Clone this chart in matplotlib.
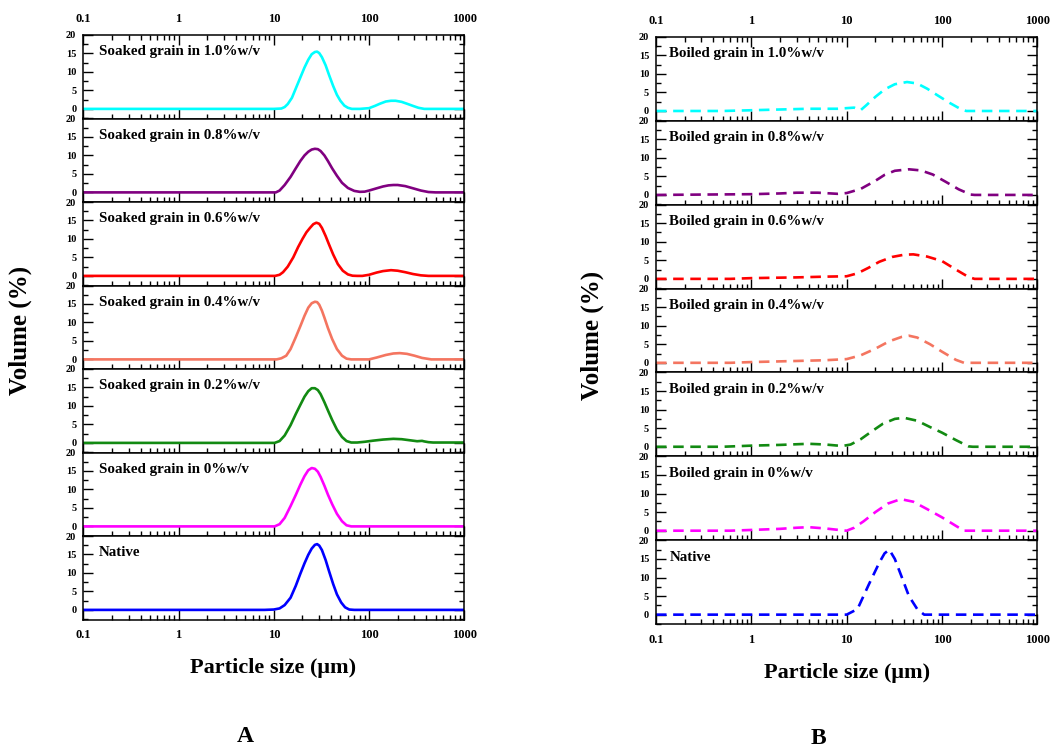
import matplotlib.pyplot as plt
from matplotlib.ticker import FixedLocator, FixedFormatter, LogLocator, MultipleLocator, NullFormatter

# particle size distributions, volume % vs size (um)
# panel A: soaked grain (solid lines)
soaked_10_x = [0.1, 10, 12, 13, 14, 15.5, 17, 19, 21, 23, 25, 27, 28.5, 30, 32, 35, 38, 42, 46, 50, 55, 60, 66,
               80, 100, 115, 130, 150, 170, 190, 220, 250, 290, 330, 380, 1000]
soaked_10_y = [0, 0, 0.1, 0.5, 1.3, 3, 5.5, 8.5, 11.2, 13.3, 14.8, 15.4, 15.5, 15.1, 14, 11.8, 9.2, 6.2, 3.8, 2.2,
               0.9, 0.3, 0, 0, 0.2, 0.8, 1.4, 2.0, 2.2, 2.2, 1.9, 1.4, 0.8, 0.3, 0, 0]
soaked_08_x = [0.1, 10.5, 11.5, 13, 15, 17, 19, 21, 23, 25, 27, 29, 31, 34, 37, 41, 46, 52, 60, 70, 80, 90, 100,
               120, 140, 160, 180, 200, 240, 290, 350, 420, 500, 1000]
soaked_08_y = [0, 0, 0.5, 2, 4.2, 6.5, 8.5, 10, 11, 11.6, 11.8, 11.7, 11.2, 10, 8.5, 6.5, 4.5, 2.6, 1.2, 0.4, 0.15,
               0.2, 0.5, 1.1, 1.6, 1.9, 2.0, 2.0, 1.7, 1.1, 0.5, 0.1, 0, 0]
soaked_06_x = [0.1, 10.3, 11.5, 12.5, 14, 16, 18, 20, 22, 24, 26, 28, 30, 32, 35, 38, 42, 47, 53, 60, 67, 75, 85,
               100, 120, 140, 170, 200, 240, 290, 350, 420, 1000]
soaked_06_y = [0, 0, 0.3, 1, 2.5, 5, 7.8, 10, 11.8, 13, 14, 14.4, 14.1, 13, 10.8, 8.5, 5.8, 3.2, 1.4, 0.4, 0.05, 0,
               0, 0.3, 0.9, 1.3, 1.55, 1.4, 1.0, 0.5, 0.15, 0, 0]
soaked_04_x = [0.1, 10.7, 12, 13.5, 15, 17, 19, 21, 23, 25, 27, 28.5, 30, 32, 34, 37, 41, 46, 52, 58, 65, 80, 100,
               120, 150, 180, 210, 250, 300, 360, 450, 1000]
soaked_04_y = [0, 0, 0.3, 1, 2.8, 6, 9, 11.8, 14, 15.2, 15.6, 15.5, 14.8, 13.2, 11.3, 8.5, 5.5, 2.8, 1, 0.2, 0, 0, 0,
               0.5, 1.2, 1.6, 1.7, 1.5, 1.0, 0.4, 0, 0]
soaked_02_x = [0.1, 10.2, 11.5, 13, 15, 17, 19, 21, 23, 25, 27, 29, 31, 34, 37, 41, 46, 52, 58, 65, 75, 90, 110,
               140, 180, 220, 270, 320, 360, 380, 420, 470, 1000]
soaked_02_y = [0, 0, 0.5, 2, 4.8, 7.8, 10.3, 12.5, 14, 14.8, 14.8, 14.3, 13.2, 11, 8.8, 6.2, 3.6, 1.6, 0.5, 0.1,
               0.1, 0.3, 0.6, 0.9, 1.1, 1.0, 0.7, 0.45, 0.55, 0.4, 0.2, 0.1, 0.1]
soaked_00_x = [0.1, 10.2, 11.5, 13, 15, 17, 19, 21, 23, 25, 27, 29, 31, 34, 37, 41, 46, 52, 58, 65, 1000]
soaked_00_y = [0, 0, 0.6, 2.3, 5.5, 8.5, 11.3, 13.6, 15.2, 15.8, 15.6, 14.8, 13.4, 11, 8.6, 6, 3.4, 1.4, 0.3, 0, 0]
native_a_x = [0.1, 8, 10, 11.5, 13, 15, 17, 19, 21, 23, 25, 27, 28.5, 30, 32, 35, 38, 42, 46, 51, 56, 62, 70, 1000]
native_a_y = [0, 0, 0.1, 0.4, 1.3, 3.3, 6.5, 9.8, 12.6, 14.9, 16.6, 17.6, 17.8, 17.4, 16.2, 13.5, 10.5, 7.0, 4.2,
              2.0, 0.7, 0.1, 0, 0]

# panel B: boiled grain (dashed lines)
boiled_10_x = [0.1, 0.5, 1, 2, 4, 8, 12, 14, 16, 20, 25, 32, 43, 55, 70, 90, 120, 160, 180, 1000]
boiled_10_y = [0, 0, 0.2, 0.4, 0.6, 0.6, 0.9, 0.2, 1.5, 3.8, 5.8, 7.2, 7.8, 7.4, 6.0, 4.2, 2.2, 0.4, 0, 0]
boiled_08_x = [0.1, 1, 2, 3, 5, 8, 10, 14, 20, 25, 32, 45, 60, 80, 110, 150, 200, 220, 1000]
boiled_08_y = [0, 0.2, 0.4, 0.6, 0.6, 0.3, 0.5, 1.6, 3.8, 5.4, 6.5, 6.9, 6.6, 5.5, 3.5, 1.5, 0.1, 0, 0]
boiled_06_x = [0.1, 0.6, 1, 3, 6, 10, 13, 17, 22, 30, 40, 50, 70, 100, 140, 190, 220, 1000]
boiled_06_y = [0, 0, 0.2, 0.4, 0.6, 0.7, 1.5, 3, 4.6, 5.9, 6.5, 6.6, 6.0, 4.8, 2.5, 0.5, 0, 0]
boiled_04_x = [0.1, 0.6, 1, 3, 6, 10, 14, 20, 28, 38, 45, 55, 75, 100, 140, 170, 1000]
boiled_04_y = [0, 0, 0.2, 0.5, 0.7, 1.0, 2.0, 3.8, 5.8, 7.0, 7.3, 6.8, 5.0, 3.0, 0.8, 0, 0]
boiled_02_x = [0.1, 0.5, 1, 2, 4, 6, 9, 11, 14, 18, 24, 32, 40, 55, 75, 100, 140, 190, 210, 1000]
boiled_02_y = [0, 0, 0.3, 0.5, 0.8, 0.6, 0.2, 0.6, 2.0, 4.0, 6.2, 7.5, 7.8, 7.0, 5.3, 3.8, 1.8, 0.1, 0, 0]
boiled_00_x = [0.1, 0.6, 1, 2, 3, 4, 6, 9, 10, 12, 15, 20, 27, 37, 50, 70, 100, 140, 170, 1000]
boiled_00_y = [0, 0, 0.2, 0.5, 0.8, 0.95, 0.6, 0.1, 0, 0.8, 2.5, 5.0, 7.3, 8.5, 7.8, 5.8, 3.6, 1.3, 0, 0]
native_b_x = [0.1, 10, 13, 17, 22, 25, 28, 32, 38, 45, 55, 65, 1000]
native_b_y = [0, 0, 1.5, 8, 14, 16.5, 17.5, 15, 10, 5, 1.5, 0, 0]

labels_a = ["Soaked grain in 1.0%w/v", "Soaked grain in 0.8%w/v", "Soaked grain in 0.6%w/v",
            "Soaked grain in 0.4%w/v", "Soaked grain in 0.2%w/v", "Soaked grain in 0%w/v", "Native"]
labels_b = ["Boiled grain in 1.0%w/v", "Boiled grain in 0.8%w/v", "Boiled grain in 0.6%w/v",
            "Boiled grain in 0.4%w/v", "Boiled grain in 0.2%w/v", "Boiled grain in 0%w/v", "Native"]
colors = ["#00FFFF", "#800080", "#FF0000", "#F47560", "#128A12", "#FF00FF", "#0000FF"]

series_a = [(soaked_10_x, soaked_10_y), (soaked_08_x, soaked_08_y), (soaked_06_x, soaked_06_y),
            (soaked_04_x, soaked_04_y), (soaked_02_x, soaked_02_y), (soaked_00_x, soaked_00_y),
            (native_a_x, native_a_y)]
series_b = [(boiled_10_x, boiled_10_y), (boiled_08_x, boiled_08_y), (boiled_06_x, boiled_06_y),
            (boiled_04_x, boiled_04_y), (boiled_02_x, boiled_02_y), (boiled_00_x, boiled_00_y),
            (native_b_x, native_b_y)]

xticks = [0.1, 1, 10, 100, 1000]
xticklabels = ["0.1", "1", "10", "100", "1000"]
yticks = [0, 5, 10, 15, 20]

plt.rcParams['font.family'] = ['Liberation Serif', 'DejaVu Serif']
plt.rcParams['font.weight'] = 'bold'
plt.rcParams['axes.linewidth'] = 1.1

W, H = 1050, 749
fig = plt.figure(figsize=(W / 100, H / 100), dpi=100)


def stack(left, right, top, bottom, series, labels, dashed, label_x):
    n = len(series)
    h = (bottom - top) / n
    for i, ((xs, ys), lab, c) in enumerate(zip(series, labels, colors)):
        y0 = top + i * h
        ax = fig.add_axes([left / W, 1 - (y0 + h) / H, (right - left) / W, h / H])
        if dashed:
            ax.plot(xs, ys, color=c, lw=1.9, dashes=(4, 2.5), dash_joinstyle='round')
        else:
            ax.plot(xs, ys, color=c, lw=1.9, solid_joinstyle='round')
        ax.set_xscale('log')
        ax.set_xlim(0.1, 1000)
        ax.set_ylim(-2.6, 20)
        ax.xaxis.set_major_locator(FixedLocator(xticks))
        ax.xaxis.set_major_formatter(FixedFormatter(xticklabels))
        ax.xaxis.set_minor_locator(LogLocator(base=10, subs=range(2, 10)))
        ax.xaxis.set_minor_formatter(NullFormatter())
        ax.set_yticks(yticks)
        ax.yaxis.set_minor_locator(MultipleLocator(2.5))
        ax.tick_params(which='both', direction='in', right=True, top=(i == 0),
                       labeltop=(i == 0), labelbottom=(i == n - 1), width=1)
        ax.tick_params(axis='x', which='major', pad=7, labelsize=9)
        ax.tick_params(axis='y', which='major', pad=5, labelsize=7.5)
        ax.tick_params(which='major', length=7)
        ax.tick_params(which='minor', length=3.5)
        ax.text(label_x, 0.80, lab, transform=ax.transAxes, fontsize=10.8,
                fontweight='bold', va='center', ha='left')


stack(83.3, 464.3, 35, 619.5, series_a, labels_a, False, 0.04)
stack(656, 1037.3, 36.7, 624.3, series_b, labels_b, True, 0.035)

fig.text(20 / W, 1 - 330 / H, "Volume (%)", rotation=90, fontsize=18, fontweight='bold', ha='center', va='center')
fig.text(592 / W, 1 - 335 / H, "Volume (%)", rotation=90, fontsize=18, fontweight='bold', ha='center', va='center')
fig.text(273.5 / W, 1 - 668 / H, "Particle size (\u03bcm)", fontsize=16, fontweight='bold', ha='center', va='center')
fig.text(846.7 / W, 1 - 673 / H, "Particle size (\u03bcm)", fontsize=16, fontweight='bold', ha='center', va='center')
fig.text(245 / W, 1 - 736 / H, "A", fontsize=17, fontweight='bold', ha='center', va='center')
fig.text(818 / W, 1 - 738 / H, "B", fontsize=17, fontweight='bold', ha='center', va='center')

fig.savefig("out.png", dpi=100)
